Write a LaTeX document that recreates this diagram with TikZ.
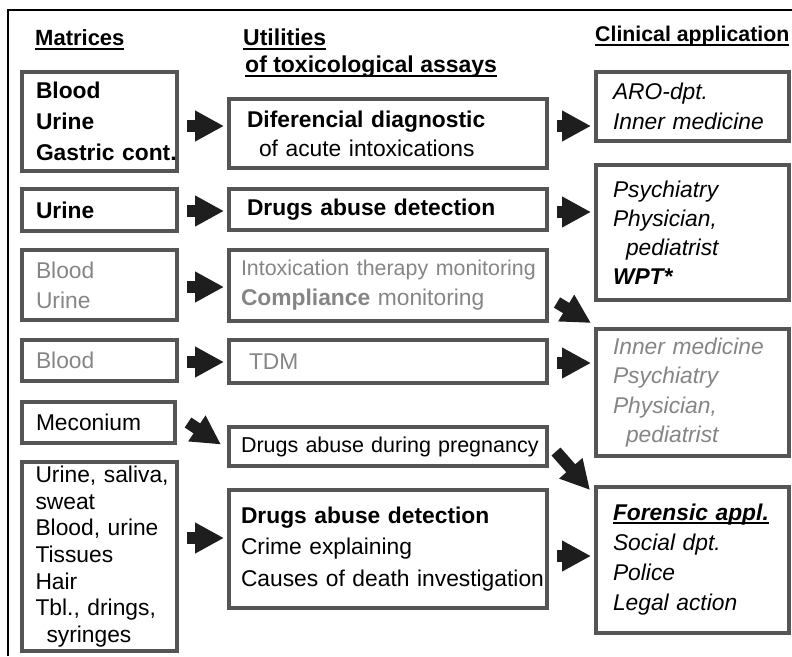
\documentclass[tikz,border=0pt]{standalone}
\usepackage{fontspec}
\setmainfont{Liberation Sans}
\hyphenpenalty=10000
\newcommand{\undl}[2][5pt]{\leavevmode\setbox0\hbox{#2}\rlap{\raisebox{-#1}{\rule{\wd0}{1.8pt}}}\box0}
\usetikzlibrary{arrows.meta}
\definecolor{boxgray}{HTML}{555555}
\definecolor{txtgray}{HTML}{858585}
\definecolor{arrowblack}{HTML}{1E1E1E}
\tikzset{
  lead/.style={font=\fontsize{22.8}{#1}\selectfont},
  tbox/.style={draw=boxgray, line width=4pt, rectangle, inner ysep=0pt, align=left, lead=29.5},
  matbox/.style={tbox, inner xsep=14pt, text width=127pt},
  utilbox/.style={tbox, inner xsep=12pt, text width=294pt},
  clinbox/.style={tbox, inner xsep=17pt, text width=159pt, execute at begin node=\itshape},
  blockarrow/.style={draw=arrowblack, line width=12pt, -{Triangle[length=29pt,width=29pt]}, shorten <=8pt, shorten >=3pt},
  headline/.style={anchor=base west, inner sep=0pt}
}
\begin{document}
\begin{tikzpicture}[x=1pt, y=-1pt]
    \useasboundingbox (0,0) rectangle (792,656);
    \draw[line width=2pt] (8,656) |- (792,10);

    % Headers
    \node (hmat) [headline, font=\fontsize{22}{26}\selectfont\bfseries] at (35,45) {\undl{Matrices}};
    \node (hutil) [headline, font=\fontsize{23}{27}\selectfont\bfseries] at (243,45) {\undl{Utilities}};
    \node (htox) [headline, font=\fontsize{23}{27}\selectfont\bfseries] at (245,72) {\undl{of toxicological assays}};
    \node (hclin) [headline, font=\fontsize{21.3}{25}\selectfont\bfseries] at (595,41) {\undl{Clinical application}};

    % Matrices
    \node (m1) [matbox, minimum height=99pt, lead=31] at (99.5,121.5) {\textbf{Blood}\\ \textbf{Urine}\\ \textbf{Gastric~cont.}};
    \node (m2) [matbox, minimum height=42pt] at (99.5,210) {\textbf{Urine}};
    \node (m3) [matbox, minimum height=70pt, text=txtgray, lead=30] at (99.5,285) {Blood\\ Urine};
    \node (m4) [matbox, minimum height=41pt, text=txtgray] at (99.5,360.5) {Blood};
    \node (m5) [matbox, minimum height=41pt, text width=125pt] at (98.5,422.5) {Meconium};
    \node (m6) [matbox, minimum height=189pt, lead=26.6] at (99,556.5) {Urine,~saliva,\\ sweat\\ Blood, urine\\ Tissues\\ Hair\\ Tbl., drings,\\ \hspace*{11pt}syringes};

    % Utilities
    \node (u1) [utilbox, minimum height=69pt, lead=29] at (388,133.5) {\hspace*{6pt}\textbf{Diferencial diagnostic}\\ \hspace*{18pt}of acute intoxications};
    \node (u2) [utilbox, minimum height=41pt] at (388,209.5) {\hspace*{6pt}\textbf{Drugs abuse detection}};
    \node (u3) [utilbox, minimum height=71pt, text=txtgray, lead=30] at (388,285.5) {{\fontsize{21.4}{30}\selectfont Intoxication~therapy~monitoring}\\ \textbf{Compliance} monitoring};
    \node (u4) [utilbox, minimum height=43pt, text=txtgray] at (388,361.5) {\hspace*{8pt}TDM};
    \node (u5) [utilbox, minimum height=39pt, font=\fontsize{21.5}{26}\selectfont] at (388,446.5) {Drugs~abuse~during~pregnancy};
    \node (u6) [utilbox, minimum height=118pt, lead=31.5] at (388,549) {\textbf{Drugs abuse detection}\\ Crime explaining\\ Causes~of~death~investigation};

    % Clinical application
    \node (c1) [clinbox, minimum height=69pt, lead=30] at (692.5,106.5) {ARO-dpt.\\ Inner medicine};
    \node (c2) [clinbox, minimum height=135pt, lead=29] at (692.5,232.5) {Psychiatry\\ Physician,\\ \hspace*{13pt}pediatrist\\ \textbf{WPT*}};
    \node (c3) [clinbox, minimum height=127pt, text=txtgray, lead=29.3] at (692.5,392.5) {Inner medicine\\ Psychiatry\\ Physician,\\ \hspace*{13pt}pediatrist};
    \node (c4) [clinbox, minimum height=146pt, lead=30] at (692.5,560) {\undl[3pt]{\textbf{Forensic appl.}}\\ Social dpt.\\ Police\\ Legal action};

    % Arrows
    \foreach \a/\b/\y in {m1/u1/126, m2/u2/211, m3/u3/287, m4/u4/362, m6/u6/538,
                          u1/c1/126, u2/c2/212, u4/c3/363, u6/c4/556} {
        \draw[blockarrow] (\a.east |- 0,\y) -- (\b.west |- 0,\y);
    }
    \draw[blockarrow, shorten <=0pt, shorten >=0pt] ([shift={(8,17)}]u3.east) -- ([shift={(-3,-4)}]c3.north west);
    \draw[blockarrow, shorten <=0pt, shorten >=0pt] ([shift={(11,0)}]m5.east) -- ([shift={(-6,-2)}]u5.west);
    \draw[blockarrow, shorten <=0pt, shorten >=0pt] ([shift={(7,5)}]u5.east) -- ([shift={(-4,5)}]c4.north west);
\end{tikzpicture}
\end{document}
